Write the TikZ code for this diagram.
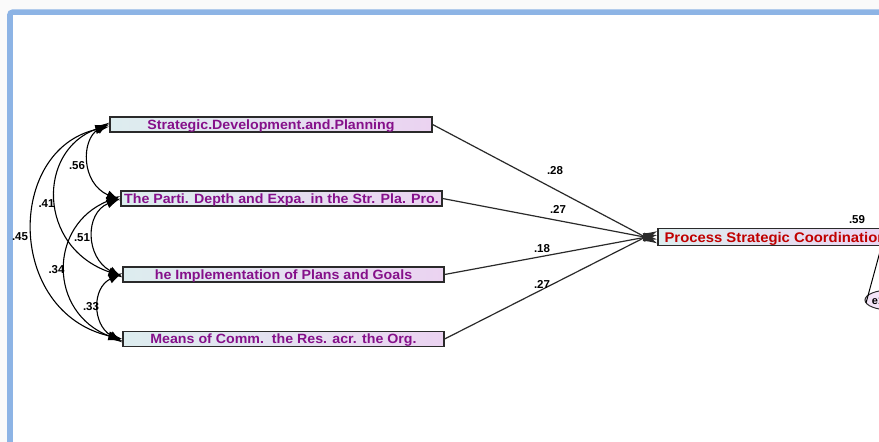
\documentclass[tikz,border=0pt]{standalone}
\usepackage{fontspec}
\setmainfont{Liberation Sans}
\newfontfamily\boxf[FakeStretch=1.06]{Liberation Sans}
\usetikzlibrary{arrows.meta,shapes.geometric,calc}
\definecolor{frameblue}{HTML}{8DB4E5}
\definecolor{bgout}{HTML}{FAFAFA}
\definecolor{boxL}{HTML}{DDEDEF}
\definecolor{boxR}{HTML}{EBD3F1}
\definecolor{txtpurple}{HTML}{85108A}
\definecolor{txtred}{HTML}{C00000}
\definecolor{edge}{HTML}{2A2A2A}
\tikzset{
  tipA/.tip={Latex[length=14pt,width=9pt]},
  varbox/.style={draw=edge, line width=1.2pt, left color=boxL, right color=boxR,
    minimum width=321pt, minimum height=15pt, inner sep=0pt,
    text height=9.6pt, text depth=0pt,
    text=txtpurple, font=\boxf\bfseries\fontsize{13.4}{14}\selectfont},
  procbox/.style={varbox, minimum width=235pt, minimum height=17pt, text=txtred,
    text height=10pt, font=\boxf\bfseries\fontsize{14}{15}\selectfont},
  errnode/.style={ellipse, draw=edge, line width=1pt, fill=boxR!60!white,
    minimum width=50pt, minimum height=20pt, inner sep=0pt},
  errtext/.style={font=\bfseries\fontsize{11}{12}\selectfont, inner sep=0pt},
  regpath/.style={draw=edge, line width=1.2pt, -tipA},
  cov/.style={draw=black, line width=1.1pt, tipA-tipA},
  lbl/.style={font=\bfseries\fontsize{11.5}{12}\selectfont, inner sep=0pt}
}
\begin{document}
\begin{tikzpicture}[x=1pt,y=-1pt]
\useasboundingbox (0,0) rectangle (879,442);
\clip (0,0) rectangle (879,442);
\fill[bgout] (0,0) rectangle (879,442);
\draw[frameblue, line width=5.7pt, fill=white, rounded corners=3pt] (9.9,12.2) rectangle (920,480);
\fill[white] (12.8,15.1) rectangle (879,440.5);

\node[varbox, minimum width=322pt] (b1) at (271,124.5) {Strategic.Development.and.Planning};
\node[varbox] (b2) at (281.5,198.5) {The Parti. Depth and Expa. in the Str. Pla. Pro.};
\node[varbox] (b3) at (283.5,274.5) {he Implementation of Plans and Goals};
\node[varbox] (b4) at (283.5,339) {Means of Comm.\ \ the Res. acr. the Org.};
\node[procbox] (P) at (775.5,237) {Process Strategic Coordination};
\node[errnode] (e1) at (890,300) {};
\node[errtext] (e1t) at (878,301) {e1};

% regression paths
\draw[regpath] (b1.east) -- ([yshift=-6.5pt]P.west);
\draw[regpath] (b2.east) -- ([yshift=-2.5pt]P.west);
\draw[regpath] (b3.east) -- ([yshift=2pt]P.west);
\draw[regpath] (b4.east) -- ([yshift=6pt]P.west);

% error term
\draw[draw=black, line width=1pt] ([xshift=-24pt,yshift=-3pt]e1.center) -- ([xshift=106pt]P.south);
\draw[draw=black, line width=1pt] ([xshift=-10pt]e1.north) -- ([xshift=105pt,yshift=-17pt]P.south);

% covariances
\draw[cov] ([yshift=-2pt]b1.west) .. controls (6,150) and (6,312) .. ([yshift=0pt]b4.west);
\draw[cov] ([yshift=0pt]b1.west) .. controls (37,150) and (37,247) .. ([yshift=-2pt]b3.west);
\draw[cov] ([yshift=2pt]b1.west) .. controls (81,140) and (81,183) .. ([yshift=-2pt]b2.west);
\draw[cov] ([yshift=0pt]b2.west) .. controls (85,213) and (85,257) .. ([yshift=-3pt]b3.west);
\draw[cov] ([yshift=2.5pt]b2.west) .. controls (48,225) and (48,313) .. ([yshift=-2pt]b4.west);
\draw[cov] ([yshift=1.5pt]b3.west) .. controls (92,288) and (92,324) .. ([yshift=-3.5pt]b4.west);

% labels
\node[lbl] (l1) at (555,171) {.28};
\node[lbl] (l2) at (558,209) {.27};
\node[lbl] (l3) at (542,249) {.18};
\node[lbl] (l4) at (542,284) {.27};
\node[lbl] (l5) at (857,220) {.59};
\node[lbl] (c1) at (77,165.5) {.56};
\node[lbl] (c2) at (46.5,203.5) {.41};
\node[lbl] (c3) at (20,237) {.45};
\node[lbl] (c4) at (82,237.5) {.51};
\node[lbl] (c5) at (56.5,270) {.34};
\node[lbl] (c6) at (91,307) {.33};
\end{tikzpicture}
\end{document}
